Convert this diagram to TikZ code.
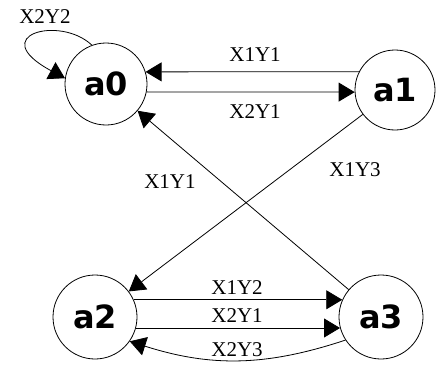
\documentclass[tikz,border=0pt]{standalone}
\usepackage{fontspec}
\setmainfont{Liberation Serif}
\newfontfamily\statefont{DejaVu Sans}
\usetikzlibrary{arrows.meta}
\begin{document}
\begin{tikzpicture}[x=1pt,y=1pt,
  state/.style={draw,circle,line width=0.8pt,inner sep=0pt,font=\statefont\bfseries\fontsize{32}{32}\selectfont},
  trans/.style={draw,line width=0.8pt,-{Triangle[length=16pt,width=19pt]}},
  lbl/.style={font=\fontsize{21}{21}\selectfont,inner sep=0pt}]
  \useasboundingbox (0,0) rectangle (438,365);
  % states
  \node[state,minimum size=82pt] (a0) at (106,281) {a0};
  \node[state,minimum size=80pt] (a1) at (395,275) {a1};
  \node[state,minimum size=84pt] (a2) at (95,48) {a2};
  \node[state,minimum size=84pt] (a3) at (381,48) {a3};
  % transitions
  \draw[trans] (a0.110) .. controls (60,350) and (-15,330) .. (a0.172);
  \draw[trans] (a1.153) -- (a0.17);
  \draw[trans] (a0.-11) -- (a1.183);
  \draw[trans] (a1) -- (a2);
  \draw[trans] (a3) -- (a0);
  \draw[trans] (a2.24) -- (a3.156);
  \draw[trans] (a2.-15) -- (a3.195);
  \draw[trans] (a3.213) to[bend left=18] (a2.325);
  % labels
  \node[lbl] (l1) at (45,348) {X2Y2};
  \node[lbl] (l2) at (255,310) {X1Y1};
  \node[lbl] (l3) at (255,253) {X2Y1};
  \node[lbl] (l4) at (355,195) {X1Y3};
  \node[lbl] (l5) at (170,183) {X1Y1};
  \node[lbl] (l6) at (237,77) {X1Y2};
  \node[lbl] (l7) at (237,49) {X2Y1};
  \node[lbl] (l8) at (237,15) {X2Y3};
\end{tikzpicture}
\end{document}
